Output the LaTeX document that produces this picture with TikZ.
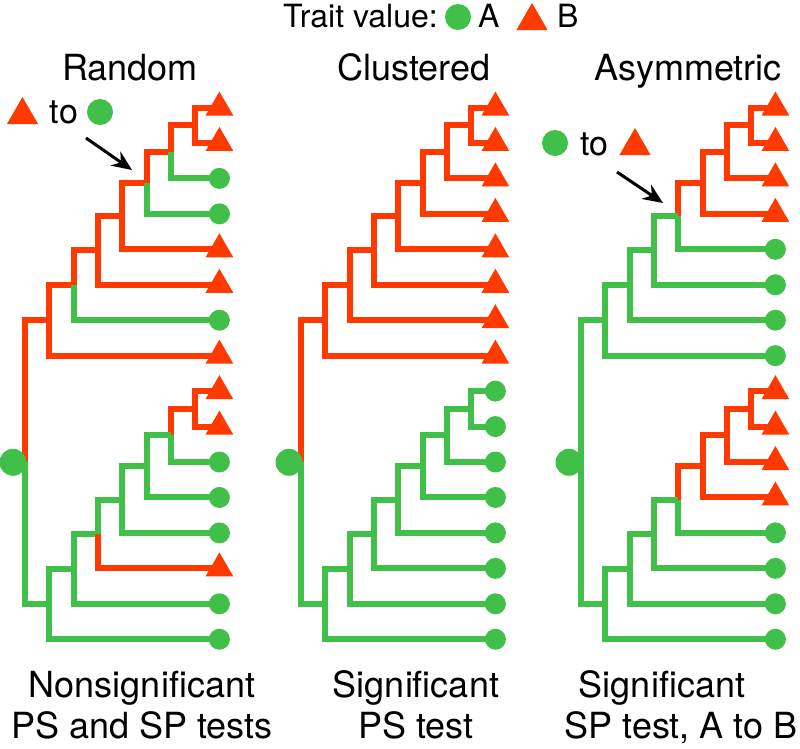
\documentclass[tikz,border=0pt]{standalone}
\usepackage{fontspec}
\setmainfont{TeX Gyre Heros}
\usetikzlibrary{shapes.geometric,arrows.meta}
\definecolor{traitA}{RGB}{64,192,72}
\definecolor{traitB}{RGB}{255,58,0}
\begin{document}
\begin{tikzpicture}[x=1pt,y=-1pt,
  every node/.style={font=\fontsize{36}{41}\selectfont},
  branch/.style={line width=6pt},
  A/.style={draw=traitA},
  B/.style={draw=traitB},
  tipA/.style={circle,fill=traitA,inner sep=0pt,minimum size=21pt},
  tipB/.style={regular polygon,regular polygon sides=3,fill=traitB,inner sep=0pt,minimum size=32pt},
  rootdot/.style={circle,fill=traitA,inner sep=0pt,minimum size=27pt},
  lbl/.style={inner sep=0pt,anchor=base},
  pointer/.style={line width=3pt,-{Stealth[length=20pt,width=17pt]}}]
\useasboundingbox (0,0) rectangle (800,748);
% key
\node[lbl,anchor=base west,font=\fontsize{32}{38}\selectfont] (key) at (283,27) {Trait value:};
\node[tipA,minimum size=26pt] (key-A) at (458,17) {};
\node[lbl,anchor=base west,font=\fontsize{32}{38}\selectfont] (key-a) at (478,27) {A};
\node[tipB,minimum size=36pt] (key-B) at (532,21) {};
\node[lbl,anchor=base west,font=\fontsize{32}{38}\selectfont] (key-b) at (557,27) {B};
% titles
\node[lbl] (r-title) at (130,80) {Random};
\node[lbl] (c-title) at (414,80) {Clustered};
\node[lbl] (s-title) at (688,80) {Asymmetric};
% trees
\foreach \tn/\xo/\tips/\links in {
  r/25/{B,B,A,A,B,B,A,B,B,B,A,A,A,B,A,A}/{B,B,B,B,B,B,B,B,A,A,A,A,A,A},
  c/301/{B,B,B,B,B,B,B,B,A,A,A,A,A,A,A,A}/{B,B,B,B,B,B,B,A,A,A,A,A,A,A},
  s/581/{B,B,B,B,A,A,A,A,B,B,B,B,A,A,A,A}/{B,B,B,A,A,A,A,B,B,B,A,A,A,A}} {
  \foreach \i in {0,...,15}
    \coordinate (\tn-t\i) at ({\xo+194.4},{107.5+35.45*\i});
  \foreach \k in {1,...,7} {
    \pgfmathtruncatemacro\kb{\k+8}
    \coordinate (\tn-n\k) at ({\xo+24.3*(8-\k)},{107.5+35.45*(\k-1+2^(-\k))});
    \coordinate (\tn-n\kb) at ({\xo+24.3*(8-\k)},{107.5+35.45*(\k+7+2^(-\k))});
  }
  \coordinate (\tn-root) at (\xo,{107.5+35.45*(10+1/128)});
  % inner branches
  \foreach \st [count=\j] in \links {
    \pgfmathtruncatemacro\kid{\j<8 ? \j : \j+1}
    \pgfmathtruncatemacro\nxt{\kid+1}
    \edef\up{\tn-n\nxt}
    \ifnum\kid=7 \edef\up{\tn-root}\fi
    \ifnum\kid=15 \edef\up{\tn-root}\fi
    \draw[branch,\st] (\up) |- (\tn-n\kid);
  }
  % tip branches
  \foreach \st [count=\i from 0] in \tips {
    \pgfmathtruncatemacro\up{\i==0 ? 1 : (\i==8 ? 9 : \i)}
    \draw[branch,\st] (\tn-n\up) |- (\tn-t\i);
    \node[tip\st] (\tn-tip\i) at (\tn-t\i) {};
  }
  \node[rootdot] (\tn-rootdot) at ([xshift=-12pt]\tn-root) {};
}
% changes
\node[tipB,minimum size=36pt] (r-old) at (22.5,115) {};
\node[lbl,font=\fontsize{34}{40}\selectfont] (r-to) at (64,123) {to};
\node[tipA,minimum size=26pt] (r-new) at (100,112) {};
\coordinate (r-from) at (86,138);
\coordinate (r-at) at (132,170);
\draw[pointer] (r-from) -- (r-at);
\node[tipA,minimum size=26pt] (s-old) at (555,143) {};
\node[lbl,font=\fontsize{34}{40}\selectfont] (s-to) at (594,155) {to};
\node[tipB,minimum size=36pt] (s-new) at (635,146) {};
\coordinate (s-from) at (617,172);
\coordinate (s-at) at (663,203);
\draw[pointer] (s-from) -- (s-at);
% results
\node[lbl] (r-result) at (142,697) {Nonsignificant};
\node[lbl] (r-tests) at (142,738) {PS and SP tests};
\node[lbl] (c-result) at (416,697) {Significant};
\node[lbl] (c-tests) at (416,738) {PS test};
\node[lbl] (s-result) at (662,697) {Significant};
\node[lbl] (s-tests) at (681,738) {SP test, A to B};
\end{tikzpicture}
\end{document}
